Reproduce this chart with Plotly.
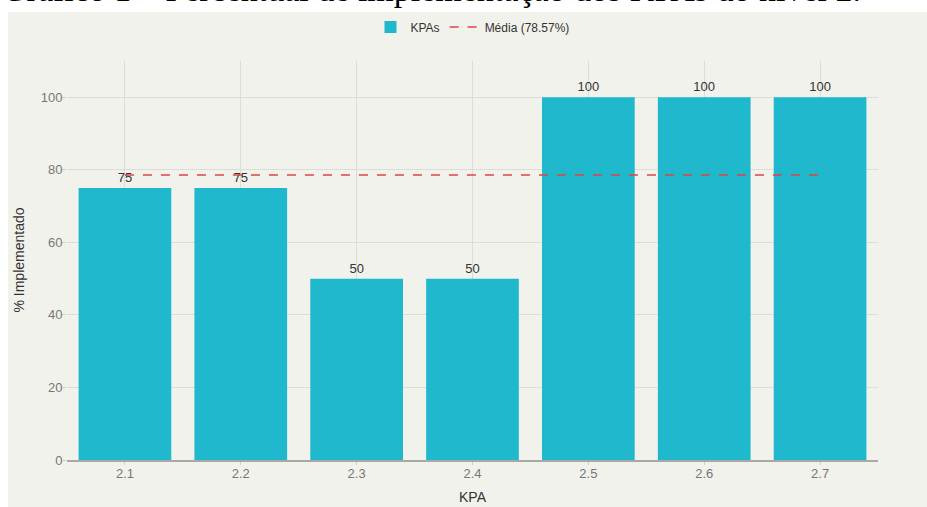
import plotly.graph_objects as go

# KPA implementation percentages (level 2)
kpas = ["2.1", "2.2", "2.3", "2.4", "2.5", "2.6", "2.7"]
implemented = [75, 75, 50, 50, 100, 100, 100]
y_ticks = [0, 20, 40, 60, 80, 100]

mean_value = sum(implemented) / len(implemented)

BAR_COLOR = "#1FB8CD"
MEAN_COLOR = "#DB4545"
PANEL_BG = "#F2F2ED"
FONT = "Liberation Sans, Arial, sans-serif"

fig = go.Figure()

fig.add_trace(go.Bar(
    x=kpas,
    y=implemented,
    name="KPAs",
    marker=dict(color=BAR_COLOR, line=dict(width=0)),
    text=[str(v) for v in implemented],
    textposition="outside",
    textfont=dict(family=FONT, size=13, color="#333333"),
    cliponaxis=False,
))

fig.add_trace(go.Scatter(
    x=kpas,
    y=[mean_value] * len(kpas),
    mode="lines",
    name=f"Média ({mean_value:.2f}%)",
    line=dict(color=MEAN_COLOR, width=1.5, dash="dash"),
))

# light panel behind the chart, leaving a white strip on top and left
fig.add_shape(
    type="rect", xref="paper", yref="paper",
    x0=-0.0727, x1=1.2, y0=-0.3, y1=1.123,
    fillcolor=PANEL_BG, line=dict(width=0), layer="below",
)

# caption above the chart
fig.add_annotation(
    text="Gráfico 1 – Percentual de implementação dos KPAs do nível 2.",
    xref="paper", yref="paper",
    x=-0.0826, y=1.128, xanchor="left", yanchor="bottom",
    showarrow=False, yshift=0,
    font=dict(family="Liberation Serif, Times New Roman, serif", size=34, color="#000000"),
)

# axis titles placed explicitly
fig.add_annotation(
    text="KPA", xref="paper", yref="paper", x=0.5, y=-0.0925,
    xanchor="center", yanchor="middle", showarrow=False,
    font=dict(family=FONT, size=14, color="#333333"),
)
fig.add_annotation(
    text="% Implementado", xref="paper", yref="paper", x=-0.0604, y=0.5,
    xanchor="center", yanchor="middle", showarrow=False, textangle=-90,
    font=dict(family=FONT, size=14, color="#333333"),
)

fig.update_layout(
    width=927, height=507,
    margin=dict(l=67, r=49, t=61, b=47),
    paper_bgcolor="white",
    plot_bgcolor=PANEL_BG,
    bargap=0.2,
    font=dict(family=FONT, color="#333333"),
    showlegend=True,
    legend=dict(
        orientation="h", x=0.5, xanchor="center", y=1.085, yanchor="middle",
        font=dict(family=FONT, size=12, color="#333333"),
        bgcolor="rgba(0,0,0,0)", itemwidth=30,
    ),
    xaxis=dict(
        automargin=False,
        tickfont=dict(family=FONT, size=13, color="#777777"),
        showgrid=True, gridcolor="#DCDCD8", gridwidth=1,
        showline=True, linecolor="#A8A8A4", linewidth=2,
        ticks="outside", ticklen=3, tickcolor="#D0D0CC",
        ticklabelstandoff=-3,
        range=[-0.5, 6.5],
    ),
    yaxis=dict(
        automargin=False,
        tickfont=dict(family=FONT, size=13, color="#777777"),
        tickvals=y_ticks,
        range=[0, 110],
        showgrid=True, gridcolor="#DCDCD8", gridwidth=1,
        zeroline=False, showline=False,
        ticks="outside", ticklen=4, tickcolor="#D0D0CC",
        ticklabelstandoff=-3,
    ),
)

fig.write_html("out.html")
